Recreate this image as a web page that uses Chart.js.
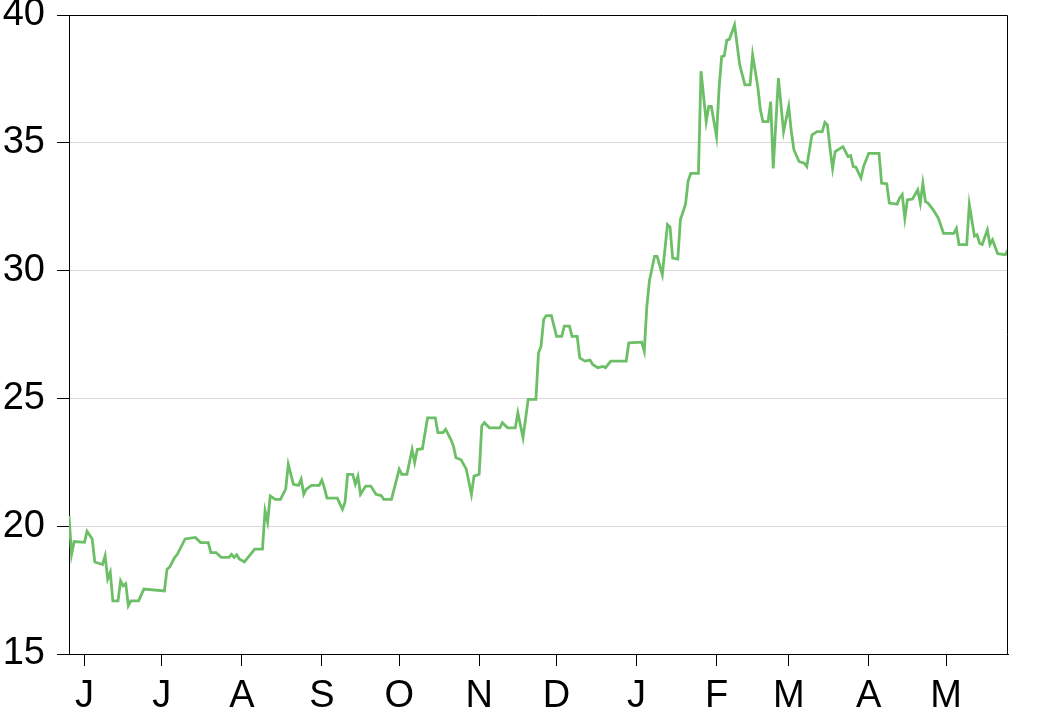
<!DOCTYPE html>
<html>
<head>
<meta charset="utf-8">
<script src="https://cdn.jsdelivr.net/npm/chart.js@4"></script>
<style>
  body { margin: 0; background: #fff; }
  canvas { display: block; }
</style>
</head>
<body>
<canvas id="chart" width="1040" height="708"></canvas>
<script>
// days counted from the first trading day (late May)
const days = [0, 1, 2, 6, 7, 9, 10, 13, 14, 15, 16, 17, 19, 20, 21, 22, 23, 24, 27, 29,
  37, 38, 39, 41, 42, 45, 49, 51, 54, 55, 57, 59, 62, 63, 64, 65, 66, 68, 72, 75,
  76, 77, 78, 80, 82, 84, 85, 87, 89, 90, 91, 92, 94, 97, 98, 99, 100, 104, 106, 107,
  108, 110, 111, 112, 113, 115, 117, 119, 121, 122, 125, 128, 129, 131, 133, 134, 135, 137, 139, 142,
  143, 145, 146, 148, 149, 150, 152, 154, 156, 157, 159, 160, 161, 163, 167, 168, 170, 173, 174, 176,
  178, 181, 182, 183, 184, 185, 187, 189, 191, 192, 194, 195, 197, 198, 200, 202, 203, 205, 207, 208,
  210, 216, 217, 222, 223, 224, 225, 227, 228, 230, 232, 233, 234, 236, 237, 239, 240, 241, 244, 245,
  247, 248, 249, 251, 252, 253, 254, 255, 256, 258, 260, 261, 262, 264, 265, 267, 268, 269, 271, 272,
  273, 275, 277, 279, 280, 281, 283, 285, 286, 288, 290, 292, 293, 294, 295, 296, 297, 300, 302, 303,
  304, 305, 307, 308, 310, 314, 315, 317, 318, 321, 322, 323, 324, 325, 327, 329, 330, 331, 332, 333,
  335, 337, 339, 343, 344, 345, 348, 349, 351, 352, 353, 354, 356, 357, 358, 360, 363, 364];

const prices = [20.4, 18.9, 19.4, 19.37, 19.8, 19.5, 18.6, 18.5, 18.84, 17.93, 18.2, 17.08, 17.08, 17.86, 17.67, 17.75, 16.89, 17.08, 17.08, 17.54,
  17.47, 18.32, 18.4, 18.78, 18.9, 19.5, 19.56, 19.36, 19.36, 18.97, 18.97, 18.78, 18.78, 18.9, 18.78, 18.88, 18.72, 18.6, 19.1, 19.1,
  20.6, 20.16, 21.18, 21.05, 21.05, 21.45, 22.42, 21.64, 21.6, 21.84, 21.25, 21.45, 21.6, 21.6, 21.8, 21.5, 21.1, 21.1, 20.66, 20.94,
  22.03, 22.03, 21.64, 21.95, 21.25, 21.57, 21.57, 21.25, 21.2, 21.05, 21.05, 22.23, 22.03, 22.03, 23.0, 22.49, 23.0, 23.03, 24.24, 24.24,
  23.66, 23.66, 23.79, 23.4, 23.14, 22.68, 22.6, 22.23, 21.25, 21.96, 22.03, 23.92, 24.05, 23.85, 23.85, 24.05, 23.85, 23.85, 24.44, 23.46,
  24.96, 24.96, 26.78, 27.04, 28.09, 28.24, 28.24, 27.43, 27.43, 27.83, 27.83, 27.43, 27.43, 26.58, 26.46, 26.5, 26.33, 26.2, 26.25, 26.2,
  26.46, 26.46, 27.17, 27.2, 26.85, 28.6, 29.6, 30.56, 30.56, 29.84, 31.8, 31.7, 30.49, 30.45, 31.99, 32.6, 33.5, 33.8, 33.8, 37.8,
  35.83, 36.42, 36.42, 35.25, 37.13, 38.37, 38.4, 39.02, 39.05, 39.61, 38.05, 37.66, 37.27, 37.27, 38.44, 37.2, 36.3, 35.83, 35.83, 36.61,
  34.0, 37.53, 35.44, 36.42, 35.44, 34.73, 34.27, 34.2, 34.07, 35.31, 35.44, 35.44, 35.8, 35.7, 34.79, 34.0, 34.66, 34.85, 34.46, 34.5,
  34.07, 34.05, 33.62, 34.07, 34.59, 34.59, 33.42, 33.4, 32.64, 32.6, 32.84, 32.97, 32.05, 32.77, 32.8, 33.16, 32.64, 33.42, 32.7, 32.64,
  32.38, 32.05, 31.46, 31.46, 31.65, 31.02, 31.02, 32.58, 31.35, 31.4, 31.07, 31.02, 31.6, 31.02, 31.2, 30.66, 30.62, 30.82];

const monthStarts = [6, 36, 67, 98, 128, 159, 189, 220, 251, 279, 310, 340];
const monthLabels = ['J', 'J', 'A', 'S', 'O', 'N', 'D', 'J', 'F', 'M', 'A', 'M'];
const yTicks = [15, 20, 25, 30, 35, 40];

const tickFont = { family: 'Liberation Sans, Arial, sans-serif', size: 38, lineHeight: 1 };

// top and right edges of the frame
const frame = {
  id: 'frame',
  afterDraw(chart) {
    const { ctx, chartArea: a } = chart;
    ctx.save();
    ctx.strokeStyle = '#000';
    ctx.lineWidth = 1;
    ctx.beginPath();
    ctx.moveTo(a.left, a.top + 0.5);
    ctx.lineTo(a.right - 0.5, a.top + 0.5);
    ctx.lineTo(a.right - 0.5, a.bottom);
    ctx.stroke();
    ctx.restore();
  }
};

new Chart(document.getElementById('chart'), {
  type: 'line',
  data: {
    datasets: [{
      data: days.map((d, i) => ({ x: d, y: prices[i] })),
      borderColor: '#6cbf66',
      borderWidth: 2.8,
      pointRadius: 0,
      tension: 0,
      fill: false
    }]
  },
  options: {
    responsive: false,
    animation: false,
    devicePixelRatio: 1,
    layout: { padding: { top: 15, right: 32, left: 0, bottom: 0 } },
    plugins: { legend: { display: false }, tooltip: { enabled: false } },
    scales: {
      x: {
        type: 'linear',
        min: 0,
        max: 364,
        afterBuildTicks: s => { s.ticks = monthStarts.map(v => ({ value: v })); },
        afterFit: s => { s.height = 54; s.paddingLeft = 0; s.paddingRight = 0; },
        ticks: {
          autoSkip: false,
          maxRotation: 0,
          padding: 12,
          color: '#000',
          font: tickFont,
          callback: (v, i) => monthLabels[i]
        },
        grid: { drawOnChartArea: false, tickLength: 12, tickColor: '#000' },
        border: { color: '#000', width: 1 }
      },
      y: {
        min: 15,
        max: 40,
        afterBuildTicks: s => { s.ticks = yTicks.map(v => ({ value: v })); },
        afterFit: s => { s.width = 69; s.paddingTop = 0; s.paddingBottom = 0; },
        ticks: { padding: 12, color: '#000', font: tickFont },
        grid: { color: '#d9d9d9', tickLength: 12, tickColor: '#000' },
        border: { color: '#000', width: 1 }
      }
    }
  },
  plugins: [frame]
});
</script>
</body>
</html>
